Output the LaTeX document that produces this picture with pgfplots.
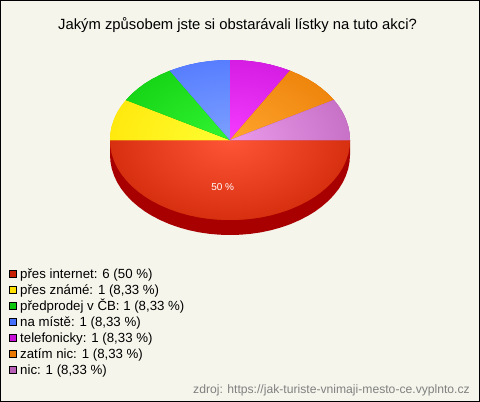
\documentclass[border=0pt]{standalone}
\usepackage{pgfplots}
\pgfplotsset{compat=1.18}
\usepackage{fontspec}
\setmainfont{Liberation Sans}
\definecolor{bg}{RGB}{245,245,236}
\definecolor{redE}{RGB}{198,32,0}\definecolor{redC}{RGB}{255,85,55}
\definecolor{yelE}{RGB}{255,224,0}\definecolor{yelC}{RGB}{255,255,50}
\definecolor{greE}{RGB}{12,200,12}\definecolor{greC}{RGB}{50,245,50}
\definecolor{bluE}{RGB}{72,112,255}\definecolor{bluC}{RGB}{125,160,255}
\definecolor{magE}{RGB}{200,16,216}\definecolor{magC}{RGB}{245,60,255}
\definecolor{oraE}{RGB}{232,120,0}\definecolor{oraC}{RGB}{255,165,45}
\definecolor{lilE}{RGB}{184,96,184}\definecolor{lilC}{RGB}{235,155,235}
\definecolor{dark}{RGB}{168,0,0}
\newif\ifinpp
\tikzset{sl/.style 2 args={draw=none,fill=#1,path picture={\ifinpp\else\inpptrue\shade[inner color=#2,outer color=#1] (axis cs:230,140) ellipse [x radius=170pt,y radius=113pt];\fi}},
 sq/.style={draw=black,line width=0.7pt,fill=#1},
 lab/.style={anchor=base west,inner sep=0pt,text=black,font=\fontsize{13.25}{15}\selectfont}}
\begin{document}
\begin{tikzpicture}
\begin{axis}[scale only axis,width=480pt,height=402pt,xmin=0,xmax=480,ymin=0,ymax=402,y dir=reverse,axis lines=none,clip=false]
\addplot[draw=black,line width=1pt,fill=bg] coordinates {(0.5,0.5)(479.5,0.5)(479.5,401.5)(0.5,401.5)} -- cycle;
% side
\addplot[draw=none,fill=dark] coordinates {(110,140)(110,155)(110.5,162)(111.8,168.9)(114.1,175.7)(117.2,182.4)(121.2,188.8)(126.1,195)(131.7,200.9)(138.1,206.4)(145.1,211.6)(152.9,216.3)(161.2,220.5)(170,224.3)(179.3,227.5)(189,230.2)(198.9,232.3)(209.2,233.8)(219.5,234.7)(230,235)(240.5,234.7)(250.8,233.8)(261.1,232.3)(271,230.2)(280.7,227.5)(290,224.3)(298.8,220.5)(307.1,216.3)(314.9,211.6)(321.9,206.4)(328.3,200.9)(333.9,195)(338.8,188.8)(342.8,182.4)(345.9,175.7)(348.2,168.9)(349.5,162)(350,155)(350,140)} -- cycle;
% red
\addplot[sl={redE}{redC}] coordinates {(110,140)(110.5,147)(111.8,153.9)(114.1,160.7)(117.2,167.4)(121.2,173.8)(126.1,180)(131.7,185.9)(138.1,191.4)(145.1,196.6)(152.9,201.3)(161.2,205.5)(170,209.3)(179.3,212.5)(189,215.2)(198.9,217.3)(209.2,218.8)(219.5,219.7)(230,220)(240.5,219.7)(250.8,218.8)(261.1,217.3)(271,215.2)(280.7,212.5)(290,209.3)(298.8,205.5)(307.1,201.3)(314.9,196.6)(321.9,191.4)(328.3,185.9)(333.9,180)(338.8,173.8)(342.8,167.4)(345.9,160.7)(348.2,153.9)(349.5,147)(350,140)} -- cycle;
% yellow
\addplot[sl={yelE}{yelC}] coordinates {(230,140)(110,140)(110.5,133)(111.8,126.1)(114.1,119.3)(117.2,112.6)(121.2,106.2)(126.1,100)} -- cycle;
% green
\addplot[sl={greE}{greC}] coordinates {(230,140)(126.1,100)(131.7,94.1)(138.1,88.6)(145.1,83.4)(152.9,78.7)(161.2,74.5)(170,70.7)} -- cycle;
% blue
\addplot[sl={bluE}{bluC}] coordinates {(230,140)(170,70.7)(179.3,67.5)(189,64.8)(198.9,62.7)(209.2,61.2)(219.5,60.3)(230,60)} -- cycle;
% magenta
\addplot[sl={magE}{magC}] coordinates {(230,140)(230,60)(240.5,60.3)(250.8,61.2)(261.1,62.7)(271,64.8)(280.7,67.5)(290,70.7)} -- cycle;
% orange
\addplot[sl={oraE}{oraC}] coordinates {(230,140)(290,70.7)(298.8,74.5)(307.1,78.7)(314.9,83.4)(321.9,88.6)(328.3,94.1)(333.9,100)} -- cycle;
% lilac
\addplot[sl={lilE}{lilC}] coordinates {(230,140)(333.9,100)(338.8,106.2)(342.8,112.6)(345.9,119.3)(348.2,126.1)(349.5,133)(350,140)} -- cycle;
% legend squares
\addplot[sq=redE] coordinates {(9.5,270.8)(16.5,270.8)(16.5,277.8)(9.5,277.8)} -- cycle;
\addplot[sq=yelE] coordinates {(9.5,286.8)(16.5,286.8)(16.5,293.8)(9.5,293.8)} -- cycle;
\addplot[sq=greE] coordinates {(9.5,302.8)(16.5,302.8)(16.5,309.8)(9.5,309.8)} -- cycle;
\addplot[sq=bluE] coordinates {(9.5,318.8)(16.5,318.8)(16.5,325.8)(9.5,325.8)} -- cycle;
\addplot[sq=magE] coordinates {(9.5,334.8)(16.5,334.8)(16.5,341.8)(9.5,341.8)} -- cycle;
\addplot[sq=oraE] coordinates {(9.5,350.8)(16.5,350.8)(16.5,357.8)(9.5,357.8)} -- cycle;
\addplot[sq=lilE] coordinates {(9.5,366.8)(16.5,366.8)(16.5,373.8)(9.5,373.8)} -- cycle;
\node[inner sep=0pt,font=\fontsize{14.8}{16}\selectfont,text=black] at (axis cs:237.5,25) {Jakým způsobem jste si obstarávali lístky na tuto akci?};
\node[inner sep=0pt,text=white,font=\fontsize{10}{12}\selectfont] at (axis cs:222.7,187) {50 \%};
\node[lab] at (axis cs:20,278.7) {přes internet: 6 (50 \%)};
\node[lab] at (axis cs:20,294.7) {přes známé: 1 (8,33 \%)};
\node[lab] at (axis cs:20,310.7) {předprodej v ČB: 1 (8,33 \%)};
\node[lab] at (axis cs:20,326.7) {na místě: 1 (8,33 \%)};
\node[lab] at (axis cs:20,342.7) {telefonicky: 1 (8,33 \%)};
\node[lab] at (axis cs:20,358.7) {zatím nic: 1 (8,33 \%)};
\node[lab] at (axis cs:20,374.7) {nic: 1 (8,33 \%)};
\node[anchor=base east,inner sep=0pt,text={rgb,255:red,128;green,128;blue,128},font=\fontsize{12.15}{14}\selectfont] at (axis cs:470,393.3) {zdroj: https://jak-turiste-vnimaji-mesto-ce.vyplnto.cz};
\end{axis}
\end{tikzpicture}
\end{document}
